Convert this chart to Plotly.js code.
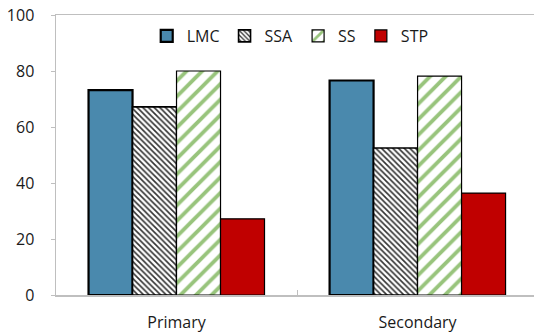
<!DOCTYPE html>
<html>
<head>
<meta charset="utf-8">
<script src="https://cdn.plot.ly/plotly-3.0.1.min.js"></script>
<style>html,body{margin:0;padding:0;background:#fff;}#chart{width:534px;height:332px;}</style>
</head>
<body>
<div id="chart"></div>
<script>
const categories = ["Primary", "Secondary"];
const seriesNames = ["LMC", "SSA", "SS", "STP"];
const LMC = [73.2, 76.6];
const SSA = [67.2, 52.5];
const SS = [80.0, 78.2];
const STP = [27.2, 36.4];
const yTicks = [0, 20, 40, 60, 80, 100];

const traces = [
  {type: "bar", name: seriesNames[0], x: categories, y: LMC,
   marker: {color: "#4A89AD", line: {color: "#000", width: 2.2}}},
  {type: "bar", name: seriesNames[1], x: categories, y: SSA,
   marker: {color: "#ffffff", line: {color: "#000", width: 1.6},
     pattern: {shape: "\\", fgcolor: "#333", bgcolor: "#fff", size: 4, solidity: 0.4}}},
  {type: "bar", name: seriesNames[2], x: categories, y: SS,
   marker: {color: "#ffffff", line: {color: "#000", width: 1.2},
     pattern: {shape: "/", fgcolor: "#98C47C", bgcolor: "#fff", size: 11, solidity: 0.35}}},
  {type: "bar", name: seriesNames[3], x: categories, y: STP,
   marker: {color: "#C00000", line: {color: "#000", width: 1.2}}}
];

const layout = {
  width: 534, height: 332,
  margin: {l: 56, r: 0, t: 15, b: 37, pad: 0},
  paper_bgcolor: "#fff", plot_bgcolor: "#fff",
  font: {family: "Open Sans, Noto Sans, sans-serif", size: 16, color: "#1a1a1a"},
  barmode: "group", bargap: 0.27, bargroupgap: 0,
  showlegend: true,
  legend: {orientation: "h", x: 0.49, xanchor: "center", y: 0.925, yanchor: "middle",
    font: {size: 16, color: "#1a1a1a"}, bgcolor: "rgba(0,0,0,0)", traceorder: "normal",
    itemwidth: 30},
  xaxis: {type: "category", range: [-0.5, 1.483], showline: true, linecolor: "#BFBFBF", linewidth: 1.5,
    mirror: true, ticks: "inside", tickson: "boundaries", ticklen: 5, tickcolor: "#BFBFBF",
    showgrid: false, zeroline: false, tickfont: {size: 16, color: "#1a1a1a"}, ticklabelstandoff: 12},
  yaxis: {range: [0, 100], tickvals: yTicks, ticktext: yTicks.map(String), showline: true,
    linecolor: "#BFBFBF", linewidth: 1.5, ticks: "outside", ticklen: 4, tickcolor: "#BFBFBF",
    showgrid: false, zeroline: false, tickfont: {size: 16, color: "#1a1a1a"}, ticklabelstandoff: 13}
};

Plotly.newPlot("chart", traces, layout, {displayModeBar: false, staticPlot: true});
</script>
</body>
</html>
